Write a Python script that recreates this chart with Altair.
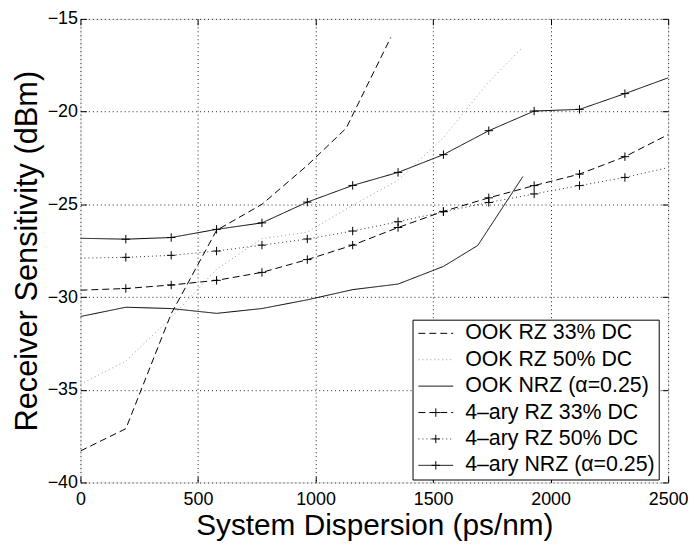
import altair as alt
import pandas as pd

series_names = ["OOK RZ 33% DC", "OOK RZ 50% DC", "OOK NRZ (α=0.25)",
                "4–ary RZ 33% DC", "4–ary RZ 50% DC", "4–ary NRZ (α=0.25)"]

ook_rz33_x = [0, 193, 386, 579, 772, 965, 1130, 1320]
ook_rz33_y = [-38.3, -37.1, -30.9, -26.4, -25.0, -22.9, -20.9, -16.0]

ook_rz50_x = [0, 193, 386, 579, 772, 965, 1158, 1351, 1544, 1737, 1880]
ook_rz50_y = [-34.7, -33.45, -31.1, -28.5, -26.85, -26.5, -25.05, -23.7, -21.4, -18.4, -16.55]

ook_nrz_x = [0, 193, 386, 579, 772, 965, 1158, 1351, 1544, 1690, 1882]
ook_nrz_y = [-31.05, -30.55, -30.62, -30.88, -30.62, -30.15, -29.6, -29.3, -28.35, -27.22, -23.5]

ary_x = [0, 193, 386, 579, 772, 965, 1158, 1351, 1544, 1737, 1930, 2123, 2316, 2500]
ary_rz33_y = [-29.63, -29.54, -29.35, -29.1, -28.67, -27.98, -27.2, -26.25, -25.38, -24.65, -23.99, -23.37, -22.43, -21.24]
ary_rz50_y = [-27.9, -27.86, -27.75, -27.52, -27.2, -26.87, -26.44, -25.94, -25.4, -24.9, -24.44, -23.99, -23.55, -23.02]
ary_nrz_y = [-26.83, -26.88, -26.79, -26.35, -26.0, -24.88, -23.98, -23.28, -22.32, -21.03, -19.97, -19.88, -19.03, -18.18]

x_ticks = [0, 500, 1000, 1500, 2000, 2500]
y_ticks = [-40, -35, -30, -25, -20, -15]

line_colors = ["#000000", "#999999", "#000000", "#000000", "#333333", "#000000"]
line_dashes = [[7, 4], [1, 3], [1, 0], [7, 4], [1, 3], [1, 0]]
cross = "M-1,0H1M0,-1V1"
marker_paths = ["M0,0", "M0,0", "M0,0", cross, cross, cross]

rows = []
for name, xs, ys in [
    (series_names[0], ook_rz33_x, ook_rz33_y),
    (series_names[1], ook_rz50_x, ook_rz50_y),
    (series_names[2], ook_nrz_x, ook_nrz_y),
    (series_names[3], ary_x, ary_rz33_y),
    (series_names[4], ary_x, ary_rz50_y),
    (series_names[5], ary_x, ary_nrz_y),
]:
    for xv, yv in zip(xs, ys):
        rows.append({"x": xv, "y": yv, "series": name})
df = pd.DataFrame(rows)
df4 = df[df["series"].str.startswith("4")].copy()

FONT = "Liberation Sans"
xscale = alt.Scale(domain=[0, 2500], nice=False, zero=False)
yscale = alt.Scale(domain=[-40, -15], nice=False, zero=False)

LX, LY = 334.5, 303.0
leg_common = dict(orient="none", legendX=LX, legendY=LY, padding=3, rowPadding=3.6,
                  labelFontSize=21.5, labelFont=FONT, title=None, labelLimit=400,
                  symbolOffset=9.7, labelOffset=18.8, symbolStrokeWidth=1)

lines = alt.Chart(df).mark_line(strokeWidth=1, clip=True).encode(
    x=alt.X("x:Q", scale=xscale, axis=alt.Axis(
        orient="bottom", values=x_ticks, format="d", ticks=False, domain=False, grid=True,
        gridDash=[1, 3], gridColor="#222222", gridWidth=1, labelFontSize=18, labelFont=FONT,
        labelPadding=8, labelFlush=False, labelOverlap=False, labelColor="black",
        title="System Dispersion (ps/nm)", titleFontSize=30, titleFont=FONT,
        titleFontWeight="normal", titlePadding=2, titleColor="black")),
    y=alt.Y("y:Q", scale=yscale, axis=alt.Axis(
        orient="left", values=y_ticks, format="d", ticks=False, domain=False, grid=True,
        gridDash=[1, 3], gridColor="#222222", gridWidth=1, labelFontSize=18, labelFont=FONT,
        labelPadding=3, labelFlush=False, labelOverlap=False, labelColor="black",
        title="Receiver Sensitivity (dBm)", titleFontSize=31, titleFont=FONT,
        titleFontWeight="normal", titlePadding=4, titleColor="black")),
    color=alt.Color("series:N", scale=alt.Scale(domain=series_names, range=line_colors),
                    legend=alt.Legend(symbolType="M-2,0H2", symbolSize=306.25,
                                      fillColor="white", strokeColor="black",
                                      labelColor="black", **leg_common)),
    strokeDash=alt.StrokeDash("series:N", scale=alt.Scale(domain=series_names, range=line_dashes),
                              legend=alt.Legend(symbolType="M-2,0H2", symbolSize=306.25,
                                                fillColor="white", strokeColor="black",
                                                labelColor="black", **leg_common)),
)

points = alt.Chart(df4).transform_filter(
    "datum.x > 0 && datum.x < 2500"
).transform_calculate(
    mk="'m_' + datum.series"
).mark_point(size=72, filled=False, color="black", strokeWidth=1, opacity=1, clip=True).encode(
    x=alt.X("x:Q", scale=xscale, axis=None),
    y=alt.Y("y:Q", scale=yscale, axis=None),
    shape=alt.Shape("mk:N", scale=alt.Scale(domain=["m_" + s for s in series_names], range=marker_paths),
                    legend=alt.Legend(symbolSize=72, symbolStrokeColor="black",
                                      symbolFillColor="transparent", labelExpr="''", **leg_common)),
)

def tick_layer(xo, yo):
    return alt.Chart(df).mark_point(opacity=0).encode(
        x=alt.X("x:Q", scale=xscale, axis=alt.Axis(
            orient=xo, values=x_ticks, labels=False, domain=False, grid=False, ticks=True,
            tickSize=6, offset=-6, tickColor="black", title=None)),
        y=alt.Y("y:Q", scale=yscale, axis=alt.Axis(
            orient=yo, values=y_ticks, labels=False, domain=False, grid=False, ticks=True,
            tickSize=6, offset=-6, tickColor="black", title=None)),
    )

chart = alt.layer(lines, points, tick_layer("bottom", "left"), tick_layer("top", "right")).resolve_axis(
    x="independent", y="independent"
).properties(
    width=592, height=467,
    autosize=alt.AutoSizeParams(type="none"),
    padding={"left": 73, "top": 9, "right": 20, "bottom": 60},
).configure_view(stroke="black", strokeWidth=1).configure(font=FONT, background="white")

chart.save("out.html", embed_options={"renderer": "svg", "actions": False})
